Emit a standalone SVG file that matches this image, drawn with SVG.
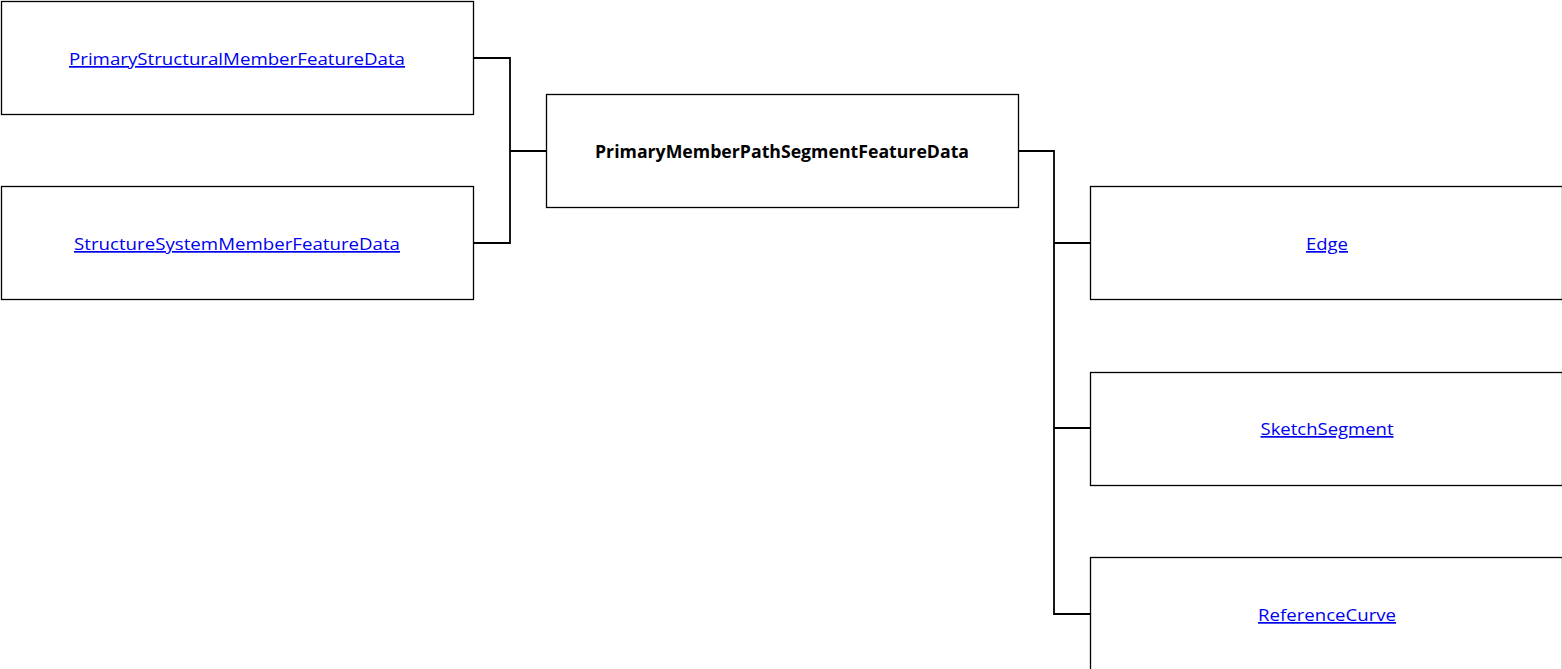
<svg xmlns="http://www.w3.org/2000/svg" width="1562" height="669" viewBox="0 0 1562 669">
<style>
.box{fill:#fff;stroke:#000;stroke-width:1.3}
.lnk{font-family:"Open Sans","Liberation Sans",sans-serif;font-size:17px;fill:#0000ee;text-decoration:underline;text-anchor:middle}
.bold{font-family:"Open Sans","Liberation Sans",sans-serif;font-size:17px;font-weight:bold;fill:#000;text-anchor:middle}
.conn{fill:none;stroke:#000;stroke-width:1.8}
</style>
<rect width="1562" height="669" fill="#fff"/>
<g id="connectors">
<path class="conn" d="M473,58 H510 V243 H473 M510,151 H546"/>
<path class="conn" d="M1018,151 H1054 V614 H1090 M1054,243 H1090 M1054,428 H1090"/>
</g>
<g id="n1"><rect class="box" x="1.5" y="1.5" width="472" height="113"/><text class="lnk" x="237" y="65" textLength="336" lengthAdjust="spacingAndGlyphs">PrimaryStructuralMemberFeatureData</text></g>
<g id="n2"><rect class="box" x="1.5" y="186.5" width="472" height="113"/><text class="lnk" x="237" y="250" textLength="326" lengthAdjust="spacingAndGlyphs">StructureSystemMemberFeatureData</text></g>
<g id="n3"><rect class="box" x="546.5" y="94.5" width="472" height="113"/><text class="bold" x="782" y="158" textLength="374" lengthAdjust="spacingAndGlyphs">PrimaryMemberPathSegmentFeatureData</text></g>
<g id="n4"><rect class="box" x="1090.5" y="186.5" width="472" height="113"/><text class="lnk" x="1327" y="250" textLength="42" lengthAdjust="spacingAndGlyphs">Edge</text></g>
<g id="n5"><rect class="box" x="1090.5" y="372.5" width="472" height="113"/><text class="lnk" x="1327" y="435" textLength="133" lengthAdjust="spacingAndGlyphs">SketchSegment</text></g>
<g id="n6"><rect class="box" x="1090.5" y="557.5" width="472" height="113"/><text class="lnk" x="1327" y="621" textLength="138" lengthAdjust="spacingAndGlyphs">ReferenceCurve</text></g>
</svg>
